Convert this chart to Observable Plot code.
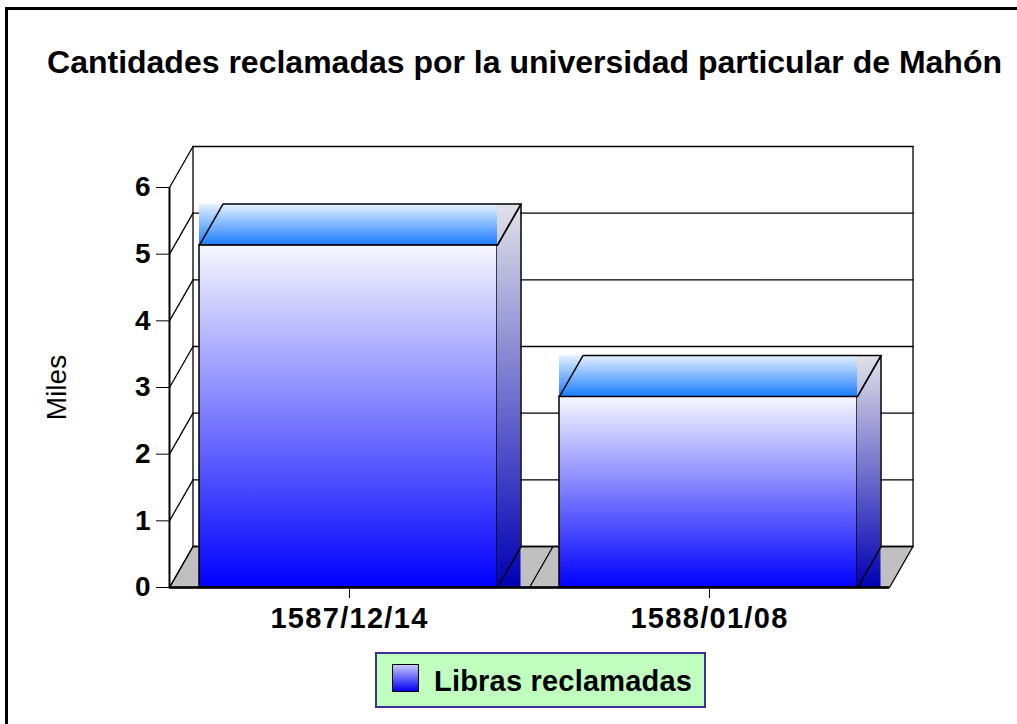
<!DOCTYPE html>
<html><head><meta charset="utf-8">
<script src="https://cdn.jsdelivr.net/npm/d3@7"></script>
<script src="https://cdn.jsdelivr.net/npm/@observablehq/plot@0.6"></script>
<style>
html,body{margin:0;padding:0;overflow:hidden;background:#fff;width:1017px;height:724px;}
body{font-family:Arial,"Liberation Sans",sans-serif;position:relative;}
*{box-sizing:border-box;}
#frame{position:absolute;left:5px;top:7px;width:1100px;height:800px;border:3px solid #000;}
#chart{position:absolute;left:0;top:0;}
#title{position:absolute;left:0;top:46px;width:1049px;text-align:center;font-size:32px;line-height:32px;font-weight:bold;white-space:nowrap;color:#000;}
#legend{position:absolute;left:375px;top:652px;width:331px;height:56px;border:2px solid #40309a;background:#c0ffc0;}
#legend .sw{position:absolute;left:15px;top:10px;width:27px;height:28px;border:1.5px solid #000;background:linear-gradient(to bottom,#c8c8ff,#0000f0);}
#legend .lb{position:absolute;left:57px;top:13px;font-size:29px;line-height:29px;font-weight:bold;white-space:nowrap;color:#000;letter-spacing:0.2px;}
#chart svg g[aria-label^="x-axis"] text{font-size:29px;letter-spacing:1.3px;}
</style>
</head><body>
<div id="frame"></div>
<div id="chart"></div>
<div id="title"></div>
<div id="legend"><div class="sw"></div><div class="lb"></div></div>
<script>
// ---- data ----
const titleText = "Cantidades reclamadas por la universidad particular de Mahón";
const categories = ["1587/12/14", "1588/01/08"];
const values = [5.136, 2.865];          // miles de libras
const seriesName = "Libras reclamadas";
const yTicks = [0, 1, 2, 3, 4, 5, 6];
const yLabel = "Miles";

// ---- 3D geometry (in data units) ----
const DX = 23.5 / 360, DY = 41 / 66.67, INSET = 30 / 360, BW = 298 / 360;
const N = categories.length, YMAX = yTicks[yTicks.length - 1];

document.getElementById("title").textContent = titleText;
document.querySelector("#legend .lb").textContent = seriesName;

const floor = [[0,0],[N,0],[N+DX,DY],[DX,DY],[0,0]].map(([x,y]) => ({x, y, k: "floor"}));
const segs = [];
yTicks.forEach(t => {
  segs.push({x: DX, y: t+DY, k: "b"+t}, {x: N+DX, y: t+DY, k: "b"+t});
  segs.push({x: 0, y: t, k: "s"+t}, {x: DX, y: t+DY, k: "s"+t});
});
segs.push({x: DX, y: DY, k: "vl"}, {x: DX, y: YMAX+DY, k: "vl"});
segs.push({x: N+DX, y: DY, k: "vr"}, {x: N+DX, y: YMAX+DY, k: "vr"});
for (let i = 1; i < N; i++) segs.push({x: i, y: 0, k: "d"+i}, {x: i+DX, y: DY, k: "d"+i});

const bars = values.map((v, i) => ({i, v, x1: i+INSET, x2: i+INSET+BW}));
const outlines = [];
bars.forEach(b => {
  [[b.x1,b.v],[b.x2,b.v],[b.x2+DX,b.v+DY],[b.x1+DX,b.v+DY],[b.x1,b.v]]
    .forEach(([x,y]) => outlines.push({x, y, k: "t"+b.i}));
  [[b.x2,0],[b.x2+DX,DY],[b.x2+DX,b.v+DY],[b.x2,b.v]]
    .forEach(([x,y]) => outlines.push({x, y, k: "s"+b.i}));
});

const svg = Plot.plot({
  width: 1017, height: 724,
  marginLeft: 169, marginRight: 128, marginTop: 187, marginBottom: 137,
  style: {fontFamily: "Arial, 'Liberation Sans', sans-serif", fontSize: "28px", fontWeight: "bold", color: "#000", background: "transparent", overflow: "visible"},
  x: {domain: [0, N], ticks: categories.map((d, i) => i + 0.5), tickFormat: v => categories[Math.floor(v)], tickSize: 11, tickPadding: 9, label: null},
  y: {domain: [0, YMAX], ticks: yTicks, tickFormat: d3.format("d"), tickSize: 13, tickPadding: 6, label: null},
  marks: [
    Plot.line(floor, {x: "x", y: "y", z: "k", fill: "#c0c0c0", stroke: "#000", strokeWidth: 1.3}),
    Plot.line(segs, {x: "x", y: "y", z: "k", stroke: "#000", strokeWidth: 1.3}),
    Plot.rect(bars, {x1: "x1", x2: "x2", y1: 0, y2: "v", fill: "url(#gFront)", stroke: "#000", strokeWidth: 1.5}),
    Plot.rect(bars, {x1: "x1", x2: "x2", y1: "v", y2: d => d.v + DY, fill: "url(#gTop)"}),
    Plot.rect(bars, {x1: "x2", x2: d => d.x2 + DX, y1: 0, y2: d => d.v + DY, fill: "url(#gSide)"}),
    Plot.line(outlines, {x: "x", y: "y", z: "k", stroke: "#000", strokeWidth: 1.5}),
    Plot.ruleX([0], {y1: 0, y2: YMAX, stroke: "#000", strokeWidth: 2}),
    Plot.ruleY([0], {x1: 0, x2: N, stroke: "#000", strokeWidth: 2.5}),
    Plot.text([yLabel], {frameAnchor: "left", dx: -112, rotate: -90, textAnchor: "middle", fontSize: 28, fontWeight: "normal"})
  ]
});

const defs = d3.select(svg).insert("defs", ":first-child");
function grad(id, stops) {
  const g = defs.append("linearGradient").attr("id", id).attr("x1", 0).attr("y1", 0).attr("x2", 0).attr("y2", 1);
  stops.forEach(([o, c]) => g.append("stop").attr("offset", o).attr("stop-color", c));
}
grad("gFront", [[0, "#f8f8ff"], [1, "#0000ff"]]);
grad("gTop", [[0, "#e6f2ff"], [1, "#1c7cff"]]);
grad("gSide", [[0, "#e2e2e8"], [1, "#0000b4"]]);

document.getElementById("chart").appendChild(svg);
</script>
</body></html>
